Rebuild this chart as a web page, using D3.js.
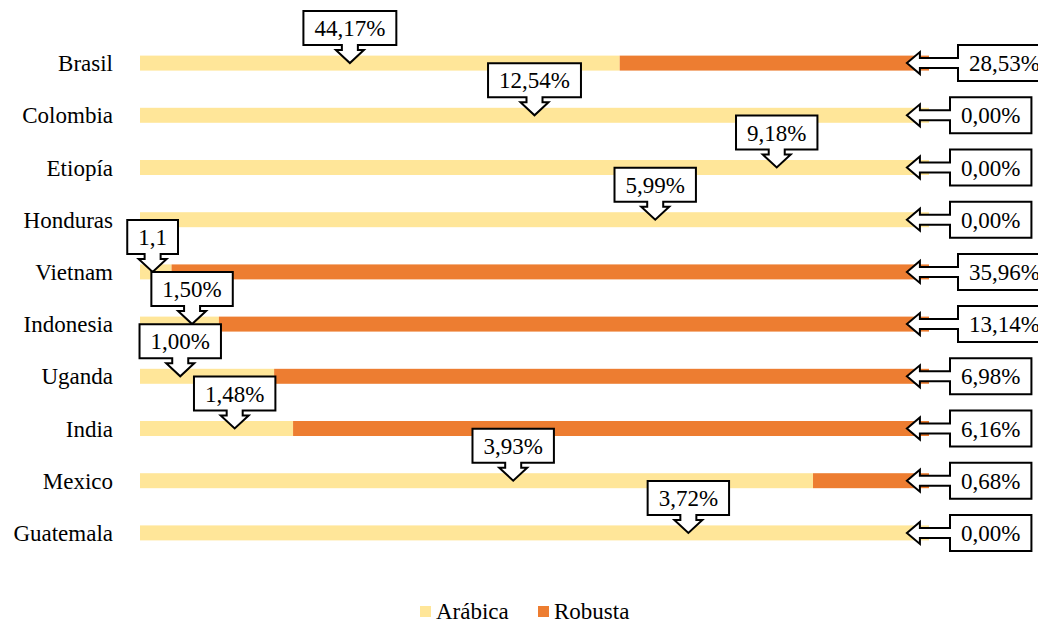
<!DOCTYPE html>
<head>
<meta charset="utf-8">
<style>
body { margin: 0; background: #fff; }
svg { display: block; }
text { font-family: "Times New Roman", "Liberation Serif", "DejaVu Serif", serif; }
.callout path { fill: #fff; stroke: #000; stroke-width: 2px; stroke-linejoin: miter; }
.callout text { font-size: 23px; fill: #000; }
.cat { font-size: 23px; fill: #000; }
.legend text { font-size: 23px; fill: #000; }
</style>
</head>
<body>
<svg width="1038" height="622"></svg>
<script src="https://d3js.org/d3.v7.min.js"></script>
<script>
// countries, top to bottom
var countries = ["Brasil", "Colombia", "Etiopía", "Honduras", "Vietnam",
                 "Indonesia", "Uganda", "India", "Mexico", "Guatemala"];
// share of each country's output (%)
var arabica = [60.8, 100, 100, 100, 4, 10, 17, 19.4, 85.3, 100];
var robusta = [39.2, 0, 0, 0, 96, 90, 83, 80.6, 14.7, 0];
// callout texts
var arabicaLabels = ["44,17%", "12,54%", "9,18%", "5,99%", "1,1",
                     "1,50%", "1,00%", "1,48%", "3,93%", "3,72%"];
var robustaLabels = ["28,53%", "0,00%", "0,00%", "0,00%", "35,96%",
                     "13,14%", "6,98%", "6,16%", "0,68%", "0,00%"];
// where each arábica callout points along the bar (axis units)
var arabicaLabelAt = [26.6, 50, 80.7, 65.3, 1.6, 6.6, 5.1, 12.0, 47.3, 69.5];
var robustaLabelAt = 97.2;

var series = ["Arábica", "Robusta"];
var colours = ["#FFE699", "#ED7D31"];

var svg = d3.select("svg");
var FONT = '"Times New Roman", "Liberation Serif", serif';

var x = d3.scaleLinear().domain([0, 100]).range([140, 929]);
var y = d3.scaleBand().domain(countries)
    .range([37, 559])
    .paddingInner(0.713)
    .paddingOuter(0.3565);

var rows = countries.map(function(c, i) {
  return {country: c, a: arabica[i], r: robusta[i]};
});
var stacked = d3.stack().keys(["a", "r"])(rows);

//bars
svg.append("g").selectAll("g")
  .data(stacked)
  .enter().append("g")
  .attr("fill", function(d, i) { return colours[i]; })
  .selectAll("rect")
  .data(function(d) { return d; })
  .enter().append("rect")
  .attr("x", function(d) { return x(d[0]); })
  .attr("width", function(d) { return x(d[1]) - x(d[0]); })
  .attr("y", function(d) { return y(d.data.country); })
  .attr("height", y.bandwidth());

//category labels
svg.append("g").selectAll("text")
  .data(countries)
  .enter().append("text")
  .attr("class", "cat")
  .attr("font-family", FONT)
  .attr("x", 113)
  .attr("y", function(d) { return y(d) + y.bandwidth() / 2; })
  .attr("dy", "0.35em")
  .attr("text-anchor", "end")
  .text(function(d) { return d; });

//callouts
var pad = 11, boxH = 34;
var cg = svg.append("g");

function downCallout(label, cx, apexY) {
  var g = cg.append("g").attr("class", "callout");
  var path = g.append("path");
  var t = g.append("text").attr("font-family", FONT).text(label).attr("text-anchor", "middle");
  var w = t.node().getComputedTextLength() + pad * 2;
  var B = apexY - 18, T = B - boxH, L = cx - w / 2, R = cx + w / 2;
  var sw = 8, hw = 14, sl = 5;
  var p = d3.path();
  p.moveTo(L, T); p.lineTo(R, T); p.lineTo(R, B);
  p.lineTo(cx + sw, B); p.lineTo(cx + sw, B + sl); p.lineTo(cx + hw, B + sl);
  p.lineTo(cx, apexY); p.lineTo(cx - hw, B + sl); p.lineTo(cx - sw, B + sl);
  p.lineTo(cx - sw, B); p.lineTo(L, B); p.closePath();
  path.attr("d", p.toString());
  t.attr("x", cx).attr("y", (T + B) / 2).attr("dy", "0.35em");
}

function leftCallout(label, ax, cy) {
  var g = cg.append("g").attr("class", "callout");
  var path = g.append("path");
  var t = g.append("text").attr("font-family", FONT).text(label);
  var tw = t.node().getComputedTextLength();
  var L = label.length > 5 ? 958 : 950;
  var w = tw + pad * 2;
  var T = cy - boxH / 2 - 1, B = cy + boxH / 2 + 1, R = L + w;
  var sh = 5, hh = 11, hl = 13;
  var p = d3.path();
  p.moveTo(L, T); p.lineTo(R, T); p.lineTo(R, B); p.lineTo(L, B);
  p.lineTo(L, cy + sh); p.lineTo(ax + hl, cy + sh); p.lineTo(ax + hl, cy + hh);
  p.lineTo(ax, cy); p.lineTo(ax + hl, cy - hh); p.lineTo(ax + hl, cy - sh);
  p.lineTo(L, cy - sh); p.closePath();
  path.attr("d", p.toString());
  t.attr("x", L + pad).attr("y", cy).attr("dy", "0.35em");
}

countries.forEach(function(c, i) {
  var cy = y(c) + y.bandwidth() / 2;
  leftCallout(robustaLabels[i], x(robustaLabelAt), cy);
});
countries.forEach(function(c, i) {
  var cy = y(c) + y.bandwidth() / 2;
  downCallout(arabicaLabels[i], x(arabicaLabelAt[i]), cy);
});

//legend
var legend = svg.append("g").attr("class", "legend");
var lx = [420, 538];
series.forEach(function(s, i) {
  legend.append("rect")
    .attr("x", lx[i]).attr("y", 606)
    .attr("width", 11).attr("height", 11)
    .attr("fill", colours[i]);
  legend.append("text")
    .attr("font-family", FONT)
    .attr("x", lx[i] + 16).attr("y", 611)
    .attr("dy", "0.35em")
    .text(s);
});
</script>
</body>
</html>
